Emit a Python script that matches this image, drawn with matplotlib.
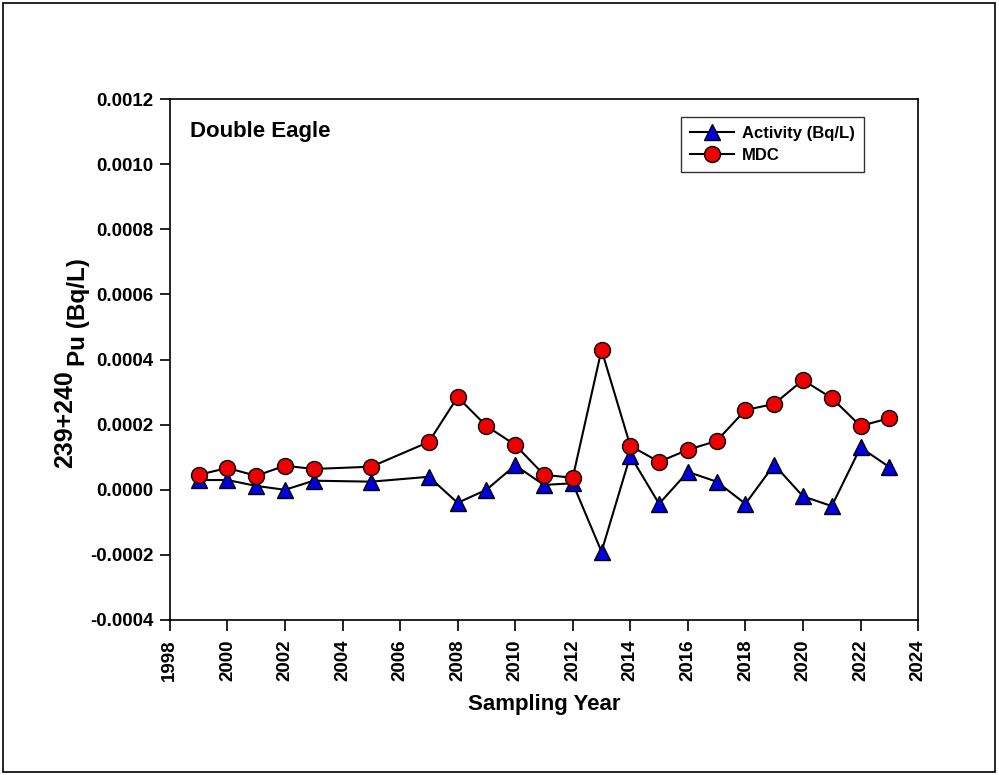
import matplotlib
matplotlib.use("Agg")
import matplotlib.pyplot as plt
from matplotlib.patches import Rectangle

# Data
years = [1999, 2000, 2001, 2002, 2003, 2005, 2007, 2008, 2009, 2010, 2011, 2012,
         2013, 2014, 2015, 2016, 2017, 2018, 2019, 2020, 2021, 2022, 2023]
activity = [0.000030, 0.000030, 0.000012, 0.000000, 0.000028, 0.000025, 0.000040,
            -0.000040, 0.000000, 0.000075, 0.000015, 0.000020, -0.000190, 0.000105,
            -0.000043, 0.000055, 0.000025, -0.000043, 0.000077, -0.000020, -0.000050,
            0.000130, 0.000070]
mdc = [0.000046, 0.000067, 0.000043, 0.000074, 0.000064, 0.000071, 0.000147,
       0.000285, 0.000196, 0.000138, 0.000046, 0.000037, 0.000430, 0.000135,
       0.000086, 0.000123, 0.000150, 0.000245, 0.000264, 0.000337, 0.000282,
       0.000196, 0.000220]
x_ticks = list(range(1998, 2025, 2))
y_ticks = [-0.0004, -0.0002, 0.0, 0.0002, 0.0004, 0.0006, 0.0008, 0.0010, 0.0012]

plt.rcParams['font.family'] = ['Liberation Sans', 'DejaVu Sans']
plt.rcParams['font.weight'] = 'bold'

W, H = 999, 775
fig = plt.figure(figsize=(W / 100, H / 100), dpi=100)
ax = fig.add_axes([0.170, 0.200, 0.749, 0.672])

# outer frame round the whole picture
fig.patches.append(Rectangle((0.003, 0.004), 0.993, 0.992, transform=fig.transFigure,
                             fill=False, edgecolor='black', linewidth=1.2))

ax.plot(years, activity, color='black', linewidth=1.5, marker='^', markersize=11,
        markerfacecolor='#0000dd', markeredgecolor='black', markeredgewidth=1,
        label='Activity (Bq/L)')
ax.plot(years, mdc, color='black', linewidth=1.5, marker='o', markersize=11.5,
        markerfacecolor='#ee0000', markeredgecolor='black', markeredgewidth=1,
        label='MDC')

ax.set_xlim(1998, 2024)
ax.set_ylim(-0.0004, 0.0012)
ax.set_xticks(x_ticks)
ax.set_xticklabels([str(t) for t in x_ticks], rotation=90, fontsize=13.5, fontweight='bold')
ax.set_yticks(y_ticks)
ax.set_yticklabels([f"{t:.4f}" for t in y_ticks], fontsize=13.5, fontweight='bold')
ax.tick_params(axis='y', direction='out', length=7, width=1.2, pad=5)
ax.tick_params(axis='x', direction='out', length=8, width=1.2, pad=6)
for s in ax.spines.values():
    s.set_linewidth(1.2)

ax.set_xlabel('Sampling Year', fontsize=16, fontweight='bold', labelpad=9)

# y label: "239+240" then "Pu (Bq/L)" set lower, as in the original
fig.text(72 / W, 1 - 468 / H, '239+240', rotation=90, rotation_mode='anchor',
         ha='left', va='baseline', fontsize=18, fontweight='bold')
fig.text(85 / W, 1 - 366 / H, 'Pu (Bq/L)', rotation=90, rotation_mode='anchor',
         ha='left', va='baseline', fontsize=17.5, fontweight='bold')

ax.text(0.027, 0.927, 'Double Eagle', transform=ax.transAxes, fontsize=16,
        fontweight='bold', va='baseline', ha='left')

leg = ax.legend(loc='upper right', bbox_to_anchor=(0.928, 0.966), fontsize=12,
                frameon=True, fancybox=False, edgecolor='black', handlelength=2.6,
                borderpad=0.55, labelspacing=0.4, handletextpad=0.5, borderaxespad=0)
leg.get_frame().set_linewidth(1.0)
for t in leg.get_texts():
    t.set_fontweight('bold')

fig.savefig('out.png', dpi=100)
